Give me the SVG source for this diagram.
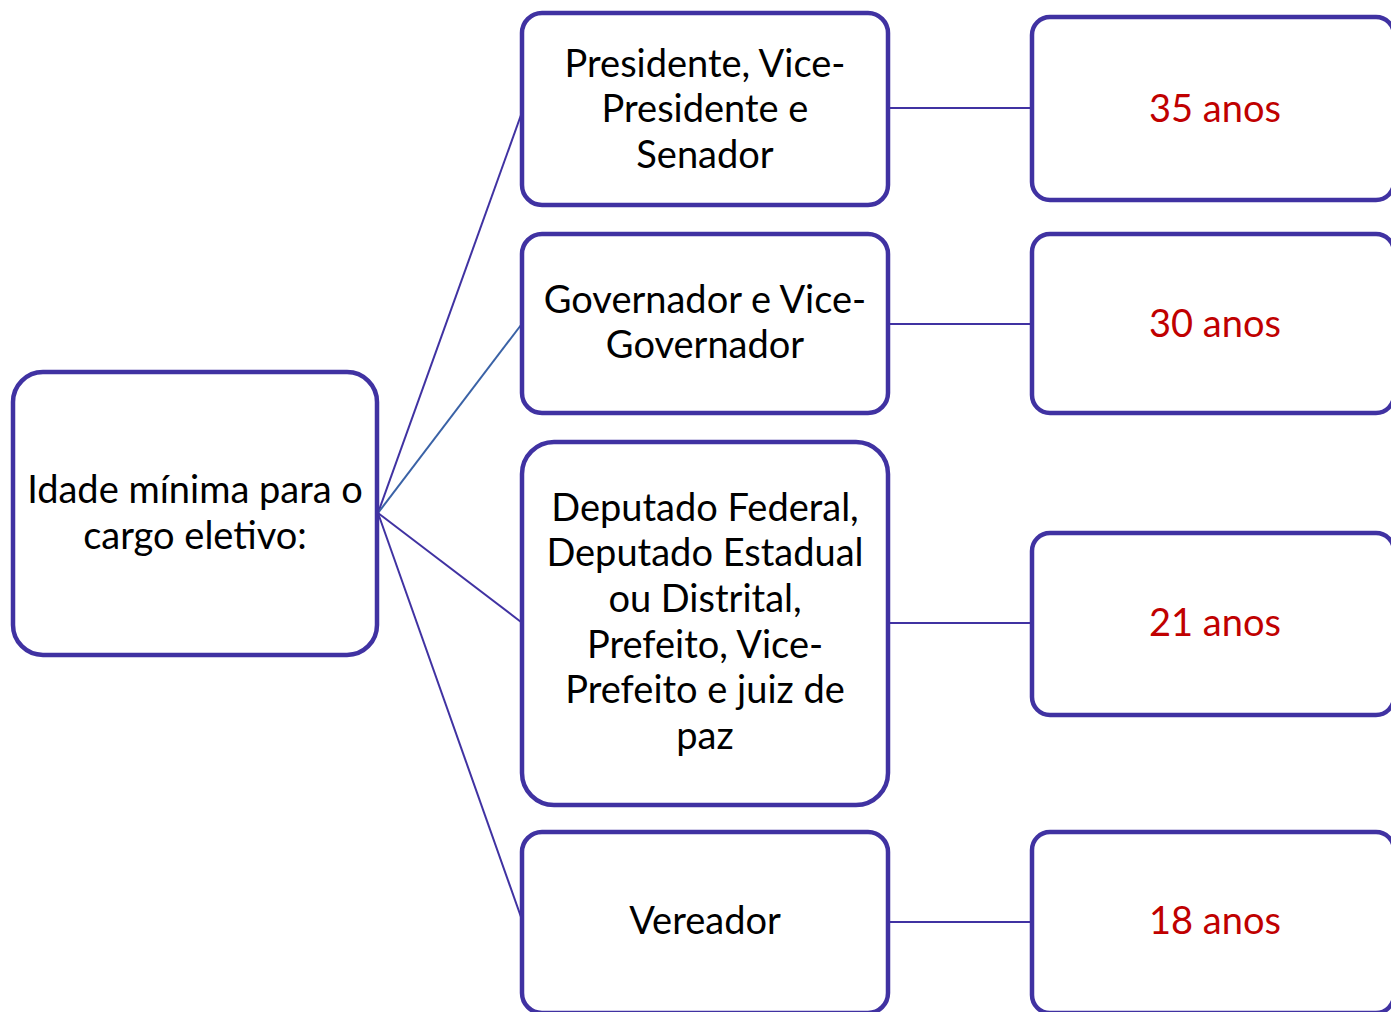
<svg xmlns="http://www.w3.org/2000/svg" width="1391" height="1012" viewBox="0 0 1391 1012">
<style>
.box{fill:#fff;stroke:#4032A2;stroke-width:4.5}
.t{font-family:Lato,"Noto Sans",sans-serif;font-size:38px;fill:#000;text-anchor:middle}
.r{font-family:Lato,"Noto Sans",sans-serif;font-size:38px;fill:#C00000;text-anchor:middle}
.c{stroke:#4032A2;stroke-width:2;fill:none}
</style>
<rect width="1391" height="1012" fill="#fff"/>
<g id="connectors">
<line class="c" x1="378" y1="513" x2="521" y2="115"/>
<line class="c" x1="378" y1="513" x2="521" y2="325" style="stroke:#3A62A6"/>
<line class="c" x1="378" y1="513" x2="521" y2="622"/>
<line class="c" x1="378" y1="513" x2="521" y2="917"/>
<line class="c" x1="888" y1="108" x2="1032" y2="108"/>
<line class="c" x1="888" y1="324" x2="1032" y2="324"/>
<line class="c" x1="888" y1="623" x2="1032" y2="623"/>
<line class="c" x1="888" y1="922" x2="1032" y2="922"/>
</g>
<g id="root">
<rect class="box" x="13" y="372" width="364" height="283" rx="30"/>
<text class="t" x="195" y="503">Idade mínima para o</text>
<text class="t" x="195" y="549">cargo eletivo:</text>
</g>
<g id="n1">
<rect class="box" x="522" y="13" width="366" height="192" rx="20"/>
<text class="t" x="705" y="77">Presidente, Vice-</text>
<text class="t" x="705" y="122">Presidente e</text>
<text class="t" x="705" y="168">Senador</text>
</g>
<g id="n2">
<rect class="box" x="522" y="234" width="366" height="179" rx="20"/>
<text class="t" x="705" y="313">Governador e Vice-</text>
<text class="t" x="705" y="358">Governador</text>
</g>
<g id="n3">
<rect class="box" x="522" y="442" width="366" height="363" rx="32"/>
<text class="t" x="705" y="521">Deputado Federal,</text>
<text class="t" x="705" y="566">Deputado Estadual</text>
<text class="t" x="705" y="612">ou Distrital,</text>
<text class="t" x="705" y="658">Prefeito, Vice-</text>
<text class="t" x="705" y="703">Prefeito e juiz de</text>
<text class="t" x="705" y="749">paz</text>
</g>
<g id="n4">
<rect class="box" x="522" y="832" width="366" height="181" rx="20"/>
<text class="t" x="705" y="934">Vereador</text>
</g>
<g id="a1">
<rect class="box" x="1032" y="17" width="362" height="183" rx="18"/>
<text class="r" x="1215" y="122">35 anos</text>
</g>
<g id="a2">
<rect class="box" x="1032" y="234" width="362" height="179" rx="18"/>
<text class="r" x="1215" y="337">30 anos</text>
</g>
<g id="a3">
<rect class="box" x="1032" y="533" width="362" height="182" rx="18"/>
<text class="r" x="1215" y="636">21 anos</text>
</g>
<g id="a4">
<rect class="box" x="1032" y="832" width="362" height="181" rx="18"/>
<text class="r" x="1215" y="934">18 anos</text>
</g>
</svg>
